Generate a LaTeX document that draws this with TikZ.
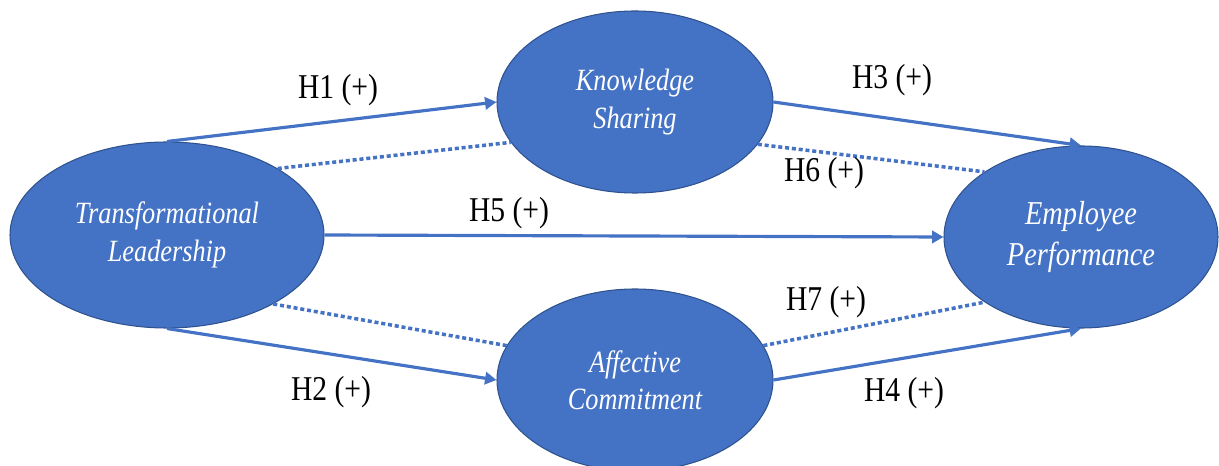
\documentclass[tikz,border=0pt]{standalone}
\usepackage{fontspec}
\setmainfont[FakeStretch=0.85]{Liberation Serif}
\usepackage{xcolor}
\usetikzlibrary{shapes.geometric, arrows.meta}

\definecolor{officeblue}{HTML}{4472C4}
\definecolor{edgeblue}{HTML}{2F528F}

\begin{document}
\begin{tikzpicture}[
    construct/.style={ellipse, draw=edgeblue, line width=0.6pt, fill=officeblue, text=white, align=center, inner sep=0pt, font=\fontsize{17.6}{21.2}\selectfont\itshape},
    arrow/.style={-{Triangle[length=6.5pt, width=7pt]}, officeblue, line width=1.8pt},
    dotline/.style={officeblue, line width=2pt, dash pattern=on 2.3pt off 1.6pt},
    hyp/.style={font=\fontsize{19.8}{23.8}\selectfont, inner sep=1pt}
]
\useasboundingbox (0,0) rectangle (24.38,9.32);

\node[construct, minimum width=6.28cm, minimum height=3.72cm] (tl) at (3.34,4.62) {Transformational\\Leadership};
\node[construct, minimum width=5.52cm, minimum height=3.64cm] (ks) at (12.70,7.28) {Knowledge\\Sharing};
\node[construct, minimum width=5.52cm, minimum height=3.64cm] (ac) at (12.70,1.72) {Affective\\Commitment};
\node[construct, minimum width=5.48cm, minimum height=3.64cm, font=\fontsize{19}{23.2}\selectfont\itshape] (ep) at (21.62,4.58) {Employee\\Performance};

% direct paths
\draw[arrow] (tl.north) -- (ks.west);
\draw[arrow] (tl.south) -- (ac.west);
\draw[arrow] (ks.east) -- (ep.north);
\draw[arrow] (ac.east) -- (ep.south);
\draw[arrow] (tl.east) -- (ep.west);

% mediated paths
\draw[dotline] (tl.31) -- (ks.198);
\draw[dotline] (tl.-33) -- (ac.165);
\draw[dotline] (ks.-19) -- (ep.146);
\draw[dotline] (ac.15) -- (ep.214);

\node[hyp] (h1) at (6.76,7.52) {H1 (+)};
\node[hyp] (h2) at (6.62,1.48) {H2 (+)};
\node[hyp] (h3) at (17.84,7.72) {H3 (+)};
\node[hyp] (h4) at (18.08,1.46) {H4 (+)};
\node[hyp] (h5) at (10.18,5.06) {H5 (+)};
\node[hyp] (h6) at (16.48,5.86) {H6 (+)};
\node[hyp] (h7) at (16.52,3.28) {H7 (+)};

\end{tikzpicture}
\end{document}
